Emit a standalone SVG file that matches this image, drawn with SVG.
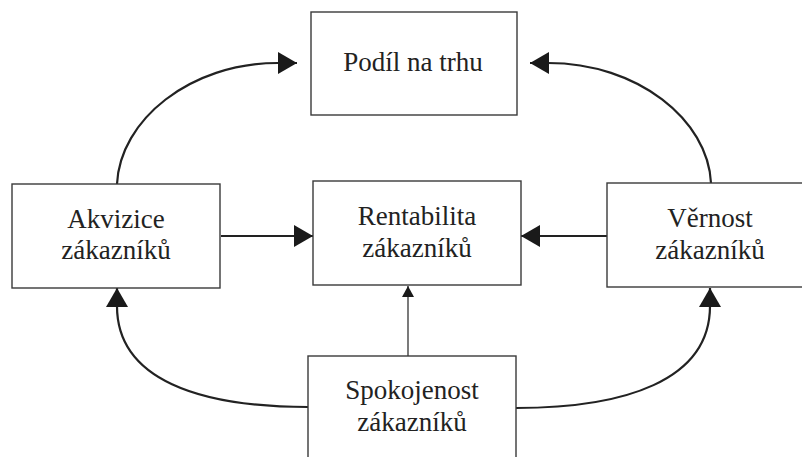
<svg xmlns="http://www.w3.org/2000/svg" width="802" height="457" viewBox="0 0 802 457">
<style>
.box{fill:#fff;stroke:#3a3a3a;stroke-width:1.4}
.t{font-family:"Liberation Serif","Times New Roman",serif;font-size:27px;fill:#222;text-anchor:middle}
.c{fill:none;stroke:#222;stroke-width:2.2}
.thin{fill:none;stroke:#222;stroke-width:1.2}
</style>
<defs>
<marker id="ah" markerUnits="userSpaceOnUse" markerWidth="20" markerHeight="22" refX="19" refY="11" orient="auto">
<path d="M0,0 L19,11 L0,22 Z" fill="#1a1a1a"/>
</marker>
<marker id="ahs" markerUnits="userSpaceOnUse" markerWidth="12" markerHeight="12" refX="11" refY="6" orient="auto">
<path d="M0,0 L11,6 L0,12 Z" fill="#1a1a1a"/>
</marker>
</defs>
<rect width="802" height="457" fill="#fff"/>
<g id="connectors">
<path class="c" d="M117,184 C120,120 190,63 278,63 L297,63" marker-end="url(#ah)"/>
<path class="c" d="M711,183 C708,120 638,63 548,63 L530,63" marker-end="url(#ah)"/>
<path class="c" d="M221,236 L313,236" marker-end="url(#ah)"/>
<path class="c" d="M607,236 L521,236" marker-end="url(#ah)"/>
<path class="thin" d="M408,356 L408,286" marker-end="url(#ahs)"/>
<path class="c" d="M308,407 C200,407 117,380 117,306 L117,288" marker-end="url(#ah)"/>
<path class="c" d="M516,408 C624,408 710,381 710,306 L710,288" marker-end="url(#ah)"/>
</g>
<g id="podil">
<rect class="box" x="311" y="12" width="206" height="103"/>
<text class="t" x="413" y="71">Podíl na trhu</text>
</g>
<g id="akvizice">
<rect class="box" x="12" y="184" width="208" height="104"/>
<text class="t" x="116" y="228">Akvizice</text>
<text class="t" x="116" y="259">zákazníků</text>
</g>
<g id="rentabilita">
<rect class="box" x="313" y="181" width="208" height="104"/>
<text class="t" x="417" y="225">Rentabilita</text>
<text class="t" x="417" y="257">zákazníků</text>
</g>
<g id="vernost">
<rect class="box" x="607" y="183" width="208" height="104"/>
<text class="t" x="710" y="227">Věrnost</text>
<text class="t" x="710" y="259">zákazníků</text>
</g>
<g id="spokojenost">
<rect class="box" x="308" y="356" width="208" height="110"/>
<text class="t" x="412" y="399">Spokojenost</text>
<text class="t" x="412" y="431">zákazníků</text>
</g>
</svg>
